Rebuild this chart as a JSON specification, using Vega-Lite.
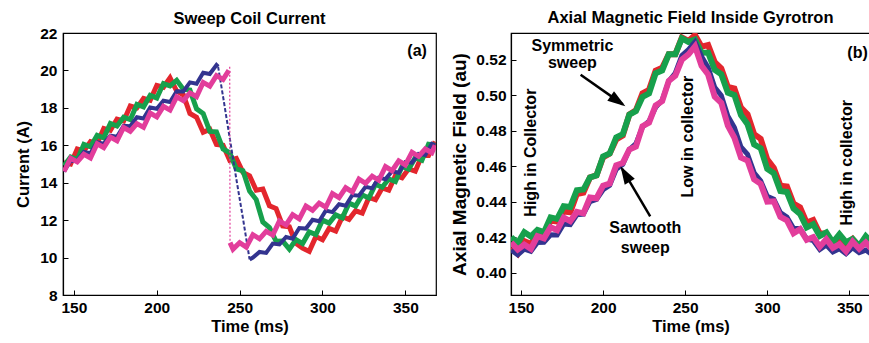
{
"$schema": "https://vega.github.io/schema/vega-lite/v6.json",
"background": "white",
"padding": {"left": 15, "top": 8, "right": 0, "bottom": 0},
"spacing": 13,
"config": {
  "font": "Liberation Sans",
  "view": {"stroke": "black", "strokeWidth": 1.2},
  "axis": {"labelFont": "Liberation Sans", "labelFontSize": 15.5, "labelFontWeight": "bold", "labelColor": "black", "titleFont": "Liberation Sans", "titleFontSize": 16.5, "titleFontWeight": "bold", "titleColor": "black", "domainColor": "black", "domainWidth": 1.2, "tickColor": "black", "tickSize": -5, "tickWidth": 1, "grid": false, "labelPadding": 10},
  "title": {"font": "Liberation Sans", "fontSize": 16.5, "fontWeight": "bold", "color": "black", "anchor": "middle"}
},
"datasets": {
  "aR": [{"t":144,"v":15.1},{"t":148,"v":15.0},{"t":152,"v":15.8},{"t":156,"v":15.7},{"t":160,"v":16.2},{"t":164,"v":16.1},{"t":168,"v":16.9},{"t":172,"v":16.8},{"t":176,"v":17.4},{"t":180,"v":17.3},{"t":184,"v":18.1},{"t":188,"v":18.0},{"t":192,"v":18.5},{"t":196,"v":18.4},{"t":200,"v":19.2},{"t":204,"v":19.1},{"t":208,"v":19.6},{"t":212,"v":18.9},{"t":216,"v":18.7},{"t":220,"v":17.7},{"t":224,"v":17.5},{"t":228,"v":16.7},{"t":232,"v":16.85},{"t":236,"v":16.05},{"t":240,"v":16.0},{"t":244,"v":15.2},{"t":248,"v":15.3},{"t":252,"v":14.55},{"t":256,"v":14.37},{"t":260,"v":13.6},{"t":264,"v":13.66},{"t":268,"v":12.77},{"t":272,"v":12.62},{"t":276,"v":11.69},{"t":280,"v":11.64},{"t":284,"v":10.76},{"t":288,"v":10.5},{"t":292,"v":10.33},{"t":296,"v":11.12},{"t":300,"v":10.95},{"t":304,"v":11.56},{"t":308,"v":11.42},{"t":312,"v":12.18},{"t":316,"v":12.04},{"t":320,"v":12.5},{"t":324,"v":12.38},{"t":328,"v":13.21},{"t":332,"v":13.09},{"t":336,"v":13.72},{"t":340,"v":13.6},{"t":344,"v":14.38},{"t":348,"v":14.26},{"t":352,"v":14.74},{"t":356,"v":14.62},{"t":360,"v":15.45},{"t":364,"v":15.45},{"t":368,"v":16.2}],
  "aG": [{"t":144,"v":14.9},{"t":148,"v":15.37},{"t":152,"v":15.23},{"t":156,"v":16.05},{"t":160,"v":15.92},{"t":164,"v":16.53},{"t":168,"v":16.4},{"t":172,"v":17.17},{"t":176,"v":17.03},{"t":180,"v":17.5},{"t":184,"v":17.37},{"t":188,"v":18.18},{"t":192,"v":18.05},{"t":196,"v":18.67},{"t":200,"v":18.53},{"t":204,"v":19.3},{"t":208,"v":19.17},{"t":212,"v":19.47},{"t":216,"v":19.0},{"t":220,"v":18.95},{"t":224,"v":17.95},{"t":228,"v":17.7},{"t":232,"v":16.74},{"t":236,"v":16.72},{"t":240,"v":15.8},{"t":244,"v":15.6},{"t":248,"v":14.74},{"t":252,"v":14.64},{"t":256,"v":13.55},{"t":260,"v":13.1},{"t":264,"v":11.9},{"t":268,"v":11.6},{"t":272,"v":10.87},{"t":276,"v":10.88},{"t":280,"v":10.45},{"t":284,"v":10.96},{"t":288,"v":10.75},{"t":292,"v":11.37},{"t":296,"v":11.23},{"t":300,"v":12.0},{"t":304,"v":11.84},{"t":308,"v":12.28},{"t":312,"v":12.12},{"t":316,"v":12.91},{"t":320,"v":12.75},{"t":324,"v":13.34},{"t":328,"v":13.18},{"t":332,"v":13.92},{"t":336,"v":13.76},{"t":340,"v":14.2},{"t":344,"v":14.06},{"t":348,"v":14.87},{"t":352,"v":14.73},{"t":356,"v":15.34},{"t":360,"v":15.2},{"t":364,"v":16.05},{"t":368,"v":16.0}],
  "aB1": [{"t":144,"v":14.6},{"t":148,"v":15.18},{"t":152,"v":15.16},{"t":156,"v":15.65},{"t":160,"v":15.58},{"t":164,"v":16.16},{"t":168,"v":16.09},{"t":172,"v":16.52},{"t":176,"v":16.46},{"t":180,"v":17.04},{"t":184,"v":17.02},{"t":188,"v":17.5},{"t":192,"v":17.43},{"t":196,"v":18.02},{"t":200,"v":17.95},{"t":204,"v":18.38},{"t":208,"v":18.31},{"t":212,"v":18.89},{"t":216,"v":18.88},{"t":220,"v":19.36},{"t":224,"v":19.29},{"t":228,"v":19.88},{"t":232,"v":19.81},{"t":236,"v":20.29},{"t":237,"v":20.2}],
  "aBd": [{"t":237,"v":20.2},{"t":240,"v":18.6},{"t":244,"v":16.4},{"t":248,"v":14.2},{"t":252,"v":12.1},{"t":256,"v":9.9}],
  "aB2": [{"t":256,"v":9.9},{"t":258,"v":10.0},{"t":262,"v":10.3},{"t":266,"v":10.25},{"t":270,"v":10.75},{"t":274,"v":10.7},{"t":278,"v":11.1},{"t":282,"v":11.01},{"t":286,"v":11.58},{"t":290,"v":11.55},{"t":294,"v":12.02},{"t":298,"v":11.94},{"t":302,"v":12.51},{"t":306,"v":12.43},{"t":310,"v":12.85},{"t":314,"v":12.77},{"t":318,"v":13.34},{"t":322,"v":13.31},{"t":326,"v":13.78},{"t":330,"v":13.7},{"t":334,"v":14.27},{"t":338,"v":14.19},{"t":342,"v":14.61},{"t":346,"v":14.53},{"t":350,"v":15.1},{"t":354,"v":15.07},{"t":358,"v":15.54},{"t":362,"v":15.48},{"t":366,"v":16.08},{"t":368,"v":16.0}],
  "aM1": [{"t":144,"v":14.6},{"t":148,"v":15.31},{"t":152,"v":15.11},{"t":156,"v":15.52},{"t":160,"v":15.32},{"t":164,"v":16.08},{"t":168,"v":15.88},{"t":172,"v":16.44},{"t":176,"v":16.24},{"t":180,"v":16.95},{"t":184,"v":16.75},{"t":188,"v":17.16},{"t":192,"v":16.96},{"t":196,"v":17.72},{"t":200,"v":17.52},{"t":204,"v":18.08},{"t":208,"v":17.88},{"t":212,"v":18.59},{"t":216,"v":18.39},{"t":220,"v":18.8},{"t":224,"v":18.6},{"t":228,"v":19.36},{"t":232,"v":19.16},{"t":236,"v":19.72},{"t":240,"v":19.52},{"t":243.5,"v":20.0}],
  "aMd": [{"t":244,"v":20.2},{"t":244.2,"v":10.8}],
  "aM2": [{"t":244.2,"v":10.8},{"t":246,"v":10.45},{"t":250,"v":10.8},{"t":254,"v":10.56},{"t":258,"v":11.22},{"t":262,"v":11.0},{"t":266,"v":11.4},{"t":270,"v":11.2},{"t":274,"v":11.95},{"t":278,"v":11.75},{"t":282,"v":12.29},{"t":286,"v":12.07},{"t":290,"v":12.75},{"t":294,"v":12.53},{"t":298,"v":12.91},{"t":302,"v":12.69},{"t":306,"v":13.42},{"t":310,"v":13.2},{"t":314,"v":13.73},{"t":318,"v":13.51},{"t":322,"v":14.19},{"t":326,"v":13.97},{"t":330,"v":14.35},{"t":334,"v":14.13},{"t":338,"v":14.86},{"t":342,"v":14.64},{"t":346,"v":15.17},{"t":350,"v":14.95},{"t":354,"v":15.63},{"t":358,"v":15.41},{"t":362,"v":15.8},{"t":366,"v":15.6},{"t":368,"v":16.0}],
  "aText": [{"t":357.1,"v":21.06,"label":"(a)"}],
  "tX": [{"t":150},{"t":200},{"t":250},{"t":300},{"t":350}],
  "aTY": [{"v":10},{"v":12},{"v":14},{"v":16},{"v":18},{"v":20}],
  "bR": [{"t":144,"v":0.414},{"t":148,"v":0.4107},{"t":152,"v":0.4177},{"t":156,"v":0.4161},{"t":160,"v":0.422},{"t":164,"v":0.4212},{"t":168,"v":0.4294},{"t":172,"v":0.4288},{"t":176,"v":0.4344},{"t":180,"v":0.434},{"t":184,"v":0.4443},{"t":188,"v":0.4451},{"t":192,"v":0.4536},{"t":196,"v":0.4548},{"t":200,"v":0.465},{"t":204,"v":0.467},{"t":208,"v":0.475},{"t":212,"v":0.4772},{"t":216,"v":0.4891},{"t":220,"v":0.4915},{"t":224,"v":0.501},{"t":228,"v":0.503},{"t":232,"v":0.5138},{"t":236,"v":0.5154},{"t":240,"v":0.523},{"t":244,"v":0.523},{"t":248,"v":0.5325},{"t":252,"v":0.5305},{"t":256,"v":0.5338},{"t":260,"v":0.5273},{"t":264,"v":0.5282},{"t":268,"v":0.5186},{"t":272,"v":0.515},{"t":276,"v":0.5046},{"t":280,"v":0.5037},{"t":284,"v":0.4929},{"t":288,"v":0.4892},{"t":292,"v":0.478},{"t":296,"v":0.4754},{"t":300,"v":0.4638},{"t":304,"v":0.459},{"t":308,"v":0.449},{"t":312,"v":0.4485},{"t":316,"v":0.4389},{"t":320,"v":0.4368},{"t":324,"v":0.4282},{"t":328,"v":0.4296},{"t":332,"v":0.422},{"t":336,"v":0.422},{"t":340,"v":0.416},{"t":344,"v":0.4203},{"t":348,"v":0.4159},{"t":352,"v":0.419},{"t":356,"v":0.4146},{"t":360,"v":0.4193},{"t":364,"v":0.415}],
  "bG": [{"t":144,"v":0.42},{"t":148,"v":0.4167},{"t":152,"v":0.4228},{"t":156,"v":0.4204},{"t":160,"v":0.424},{"t":164,"v":0.4228},{"t":168,"v":0.4311},{"t":172,"v":0.4303},{"t":176,"v":0.4374},{"t":180,"v":0.437},{"t":184,"v":0.4464},{"t":188,"v":0.4468},{"t":192,"v":0.4536},{"t":196,"v":0.4548},{"t":200,"v":0.4655},{"t":204,"v":0.4671},{"t":208,"v":0.4762},{"t":212,"v":0.478},{"t":216,"v":0.489},{"t":220,"v":0.491},{"t":224,"v":0.499},{"t":228,"v":0.501},{"t":232,"v":0.5123},{"t":236,"v":0.5139},{"t":240,"v":0.523},{"t":244,"v":0.523},{"t":248,"v":0.532},{"t":252,"v":0.53},{"t":256,"v":0.5313},{"t":260,"v":0.524},{"t":264,"v":0.5239},{"t":268,"v":0.5143},{"t":272,"v":0.5118},{"t":276,"v":0.5014},{"t":280,"v":0.5},{"t":284,"v":0.4888},{"t":288,"v":0.4836},{"t":292,"v":0.4722},{"t":296,"v":0.4701},{"t":300,"v":0.4585},{"t":304,"v":0.456},{"t":308,"v":0.446},{"t":312,"v":0.4454},{"t":316,"v":0.4362},{"t":320,"v":0.433},{"t":324,"v":0.4254},{"t":328,"v":0.4273},{"t":332,"v":0.4207},{"t":336,"v":0.4226},{"t":340,"v":0.417},{"t":344,"v":0.4216},{"t":348,"v":0.4172},{"t":352,"v":0.419},{"t":356,"v":0.415},{"t":360,"v":0.4205},{"t":364,"v":0.4165}],
  "bB": [{"t":144,"v":0.4128},{"t":148,"v":0.41},{"t":152,"v":0.4132},{"t":156,"v":0.412},{"t":160,"v":0.417},{"t":164,"v":0.4171},{"t":168,"v":0.4213},{"t":172,"v":0.4212},{"t":176,"v":0.4274},{"t":180,"v":0.427},{"t":184,"v":0.4326},{"t":188,"v":0.433},{"t":192,"v":0.44},{"t":196,"v":0.4413},{"t":200,"v":0.4467},{"t":204,"v":0.4492},{"t":208,"v":0.4582},{"t":212,"v":0.461},{"t":216,"v":0.4694},{"t":220,"v":0.4726},{"t":224,"v":0.482},{"t":228,"v":0.4853},{"t":232,"v":0.4931},{"t":236,"v":0.4972},{"t":240,"v":0.5078},{"t":244,"v":0.5125},{"t":248,"v":0.5224},{"t":252,"v":0.5256},{"t":256,"v":0.53},{"t":260,"v":0.5218},{"t":264,"v":0.5155},{"t":268,"v":0.5044},{"t":272,"v":0.4998},{"t":276,"v":0.4882},{"t":280,"v":0.4818},{"t":284,"v":0.4708},{"t":288,"v":0.4666},{"t":292,"v":0.4563},{"t":296,"v":0.4517},{"t":300,"v":0.443},{"t":304,"v":0.4414},{"t":308,"v":0.4338},{"t":312,"v":0.4314},{"t":316,"v":0.425},{"t":320,"v":0.4248},{"t":324,"v":0.4191},{"t":328,"v":0.4181},{"t":332,"v":0.413},{"t":336,"v":0.4156},{"t":340,"v":0.4116},{"t":344,"v":0.4134},{"t":348,"v":0.4106},{"t":352,"v":0.414},{"t":356,"v":0.4113},{"t":360,"v":0.4127},{"t":364,"v":0.41}],
  "bM": [{"t":144,"v":0.417},{"t":148,"v":0.413},{"t":152,"v":0.4158},{"t":156,"v":0.4134},{"t":160,"v":0.4205},{"t":164,"v":0.4193},{"t":168,"v":0.4256},{"t":172,"v":0.424},{"t":176,"v":0.431},{"t":180,"v":0.429},{"t":184,"v":0.4342},{"t":188,"v":0.4334},{"t":192,"v":0.4423},{"t":196,"v":0.4419},{"t":200,"v":0.449},{"t":204,"v":0.4502},{"t":208,"v":0.4604},{"t":212,"v":0.4618},{"t":216,"v":0.4694},{"t":220,"v":0.471},{"t":224,"v":0.4825},{"t":228,"v":0.4845},{"t":232,"v":0.4942},{"t":236,"v":0.4966},{"t":240,"v":0.508},{"t":244,"v":0.511},{"t":248,"v":0.52},{"t":252,"v":0.523},{"t":256,"v":0.5275},{"t":260,"v":0.5165},{"t":264,"v":0.5116},{"t":268,"v":0.4992},{"t":272,"v":0.4956},{"t":276,"v":0.4828},{"t":280,"v":0.476},{"t":284,"v":0.4648},{"t":288,"v":0.4631},{"t":292,"v":0.4525},{"t":296,"v":0.45},{"t":300,"v":0.44},{"t":304,"v":0.4402},{"t":308,"v":0.4314},{"t":312,"v":0.4294},{"t":316,"v":0.4222},{"t":320,"v":0.4245},{"t":324,"v":0.4185},{"t":328,"v":0.42},{"t":332,"v":0.4146},{"t":336,"v":0.4188},{"t":340,"v":0.414},{"t":344,"v":0.416},{"t":348,"v":0.412},{"t":352,"v":0.4175},{"t":356,"v":0.4135},{"t":360,"v":0.417},{"t":364,"v":0.413}],
  "bText": [{"t":181.3,"v":0.5275,"label":"Symmetric"},{"t":181.3,"v":0.5181,"label":"sweep"},{"t":225.7,"v":0.4253,"label":"Sawtooth"},{"t":225.7,"v":0.4141,"label":"sweep"}],
  "bCorner": [{"t":348.8,"v":0.5239,"label":"(b)"}],
  "bVText": [{"t":156.0,"v":0.4676,"label":"High in Collector"},{"t":251.8,"v":0.4766,"label":"Low in collector"},{"t":348.7,"v":0.4619,"label":"High in collector"}],
  "bArrows": [{"t":186.3,"v":0.5115,"t2":212.0,"v2":0.4948},{"t":228.7,"v":0.4317,"t2":211.6,"v2":0.4584}],
  "bHead1": [{"t":213.6,"v":0.4937}],
  "bHead2": [{"t":210.6,"v":0.4599}]
},
"hconcat": [
 {
  "title": {"text": "Sweep Coil Current", "offset": -1},
  "width": 373, "height": 262,
  "encoding": {
    "x": {"field": "t", "type": "quantitative", "scale": {"domain": [143.4, 368.5], "nice": false, "zero": false}, "axis": {"values": [150,200,250,300,350], "title": "Time (ms)", "titlePadding": 3}},
    "y": {"field": "v", "type": "quantitative", "scale": {"domain": [8, 22], "nice": false, "zero": false}, "axis": {"values": [8,10,12,14,16,18,20,22], "title": "Current (A)", "titlePadding": 8, "labelPadding": 11}}
  },
  "layer": [
    {"data": {"name": "aR"}, "mark": {"type": "line", "color": "#e3262d", "strokeWidth": 5, "clip": true}},
    {"data": {"name": "aG"}, "mark": {"type": "line", "color": "#17a04c", "strokeWidth": 5, "clip": true}},
    {"data": {"name": "aB1"}, "mark": {"type": "line", "color": "#33348f", "strokeWidth": 4, "clip": true}},
    {"data": {"name": "aBd"}, "mark": {"type": "line", "color": "#33348f", "strokeWidth": 2, "strokeDash": [4, 2], "clip": true}},
    {"data": {"name": "aB2"}, "mark": {"type": "line", "color": "#33348f", "strokeWidth": 4, "clip": true}},
    {"data": {"name": "aM1"}, "mark": {"type": "line", "color": "#e23d9b", "strokeWidth": 5, "clip": true}},
    {"data": {"name": "aMd"}, "mark": {"type": "line", "color": "#e23d9b", "strokeWidth": 1.2, "strokeDash": [2, 2], "clip": true}},
    {"data": {"name": "aM2"}, "mark": {"type": "line", "color": "#e23d9b", "strokeWidth": 5, "clip": true}},
    {"data": {"name": "tX"}, "mark": {"type": "rule", "color": "black", "strokeWidth": 1}, "encoding": {"y": {"datum": 22}, "y2": {"datum": 21.73}}},
    {"data": {"name": "aTY"}, "mark": {"type": "rule", "color": "black", "strokeWidth": 1}, "encoding": {"x": {"datum": 368.5}, "x2": {"datum": 365.5}}},
    {"data": {"name": "aText"}, "mark": {"type": "text", "font": "Liberation Sans", "fontSize": 16, "fontWeight": "bold", "color": "black", "align": "center", "baseline": "middle"}, "encoding": {"text": {"field": "label"}}}
  ]
 },
 {
  "title": {"text": "Axial Magnetic Field Inside Gyrotron", "offset": 7},
  "width": 359, "height": 262,
  "encoding": {
    "x": {"field": "t", "type": "quantitative", "scale": {"domain": [143.9, 362.6], "nice": false, "zero": false}, "axis": {"values": [150,200,250,300,350], "title": "Time (ms)", "titlePadding": 3}},
    "y": {"field": "v", "type": "quantitative", "scale": {"domain": [0.3874, 0.535], "nice": false, "zero": false}, "axis": {"values": [0.40,0.42,0.44,0.46,0.48,0.50,0.52], "format": ".2f", "title": "Axial Magnetic Field (au)", "titleFontSize": 19, "titlePadding": 6, "labelPadding": 10}}
  },
  "layer": [
    {"data": {"name": "bR"}, "mark": {"type": "line", "color": "#e3262d", "strokeWidth": 6, "clip": true}},
    {"data": {"name": "bG"}, "mark": {"type": "line", "color": "#17a04c", "strokeWidth": 6, "clip": true}},
    {"data": {"name": "bB"}, "mark": {"type": "line", "color": "#33348f", "strokeWidth": 5, "clip": true}},
    {"data": {"name": "bM"}, "mark": {"type": "line", "color": "#e23d9b", "strokeWidth": 6, "clip": true}},
    {"data": {"name": "tX"}, "mark": {"type": "rule", "color": "black", "strokeWidth": 1}, "encoding": {"y": {"datum": 0.535}, "y2": {"datum": 0.5322}}},
    {"data": {"name": "bArrows"}, "mark": {"type": "rule", "color": "black", "strokeWidth": 2.5}, "encoding": {"x2": {"field": "t2"}, "y2": {"field": "v2"}}},
    {"data": {"name": "bHead1"}, "mark": {"type": "point", "shape": "M0,0L0.65,2L-0.65,2Z", "size": 324, "angle": 125, "filled": true, "color": "black", "opacity": 1}},
    {"data": {"name": "bHead2"}, "mark": {"type": "point", "shape": "M0,0L0.65,2L-0.65,2Z", "size": 324, "angle": 329, "filled": true, "color": "black", "opacity": 1}},
    {"data": {"name": "bText"}, "mark": {"type": "text", "font": "Liberation Sans", "fontSize": 16, "fontWeight": "bold", "color": "black", "align": "center", "baseline": "middle"}, "encoding": {"text": {"field": "label"}}},
    {"data": {"name": "bVText"}, "mark": {"type": "text", "font": "Liberation Sans", "fontSize": 16, "fontWeight": "bold", "color": "black", "align": "center", "baseline": "middle", "angle": 270}, "encoding": {"text": {"field": "label"}}},
    {"data": {"name": "bCorner"}, "mark": {"type": "text", "font": "Liberation Sans", "fontSize": 16, "fontWeight": "bold", "color": "black", "align": "left", "baseline": "middle", "clip": true}, "encoding": {"text": {"field": "label"}}}
  ]
 }
]
}
